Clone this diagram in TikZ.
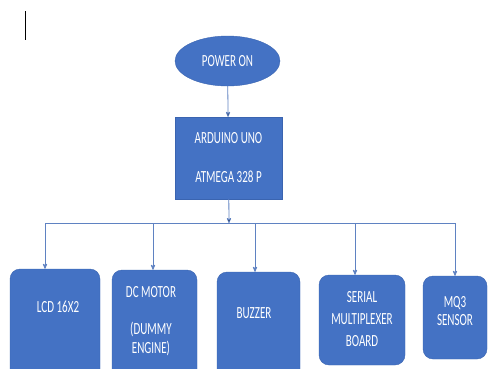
\documentclass[tikz,border=0pt]{standalone}
\usepackage{fontspec}
\setmainfont{Carlito}[FakeStretch=0.65]
\usetikzlibrary{arrows,shapes.geometric}

\definecolor{boxblue}{HTML}{4472C4}
\definecolor{boxedge}{HTML}{3A64B0}
\definecolor{linkblue}{HTML}{5F82C2}

\begin{document}
\begin{tikzpicture}[x=1pt,y=-1pt,>=stealth',
    blk/.style={draw=boxedge,fill=boxblue,text=white,inner sep=0pt,
        font=\fontsize{17}{19}\selectfont,align=center},
    start/.style={blk,ellipse,minimum width=105pt,minimum height=50pt},
    ctrl/.style={blk,rectangle,minimum width=107pt,minimum height=82pt},
    unit/.style={blk,rectangle,rounded corners=10pt},
    lbl/.style={text=white,inner sep=0pt,font=\fontsize{17}{19}\selectfont,align=center},
    link/.style={draw=linkblue,line width=0.8pt}]
    \useasboundingbox (0,0) rectangle (492,368);
    \draw[line width=0.8pt] (25,11) -- (25,40);

    \node[start] (pwr) at (227.5,61) {POWER ON};
    \node[ctrl] (uno) at (228.5,158) {ARDUINO UNO\\[20pt]ATMEGA 328 P};

    \node[unit,minimum width=90pt,minimum height=111pt] (lcd) at (55,324.5) {};
    \node[unit,minimum width=85pt,minimum height=110pt] (dc) at (154.5,325) {};
    \node[unit,minimum width=83pt,minimum height=108pt] (buz) at (258.5,326) {};
    \node[unit,minimum width=86pt,minimum height=90pt] (mux) at (362,320) {};
    \node[unit,minimum width=64pt,minimum height=83pt] (mq) at (455,317.5) {};

    \node[lbl] (lcdlbl) at (58,307) {LCD 16X2};
    \node[lbl] (dclbl) at (151,321) {DC MOTOR\\[18pt](DUMMY\\ENGINE)};
    \node[lbl] (buzlbl) at (254,313) {BUZZER};
    \node[lbl] (muxlbl) at (362,319.5) {SERIAL\\[3pt]MULTIPLEXER\\[3pt]BOARD};
    \node[lbl] (mqlbl) at (455,311) {MQ3\\[-1pt]SENSOR};

    % bus
    \coordinate (hub) at (229,223);
    \coordinate (t1) at (45,223);
    \coordinate (t2) at (153,223);
    \coordinate (t3) at (255,223);
    \coordinate (t4) at (355,223);
    \coordinate (t5) at (455,223);

    \path[link,->] (pwr) edge (uno);
    \path[link,->] (uno) edge (hub);
    \draw[link] (t1) -- (t5);
    \draw[link,->] (t1) -- (t1 |- lcd.north);
    \draw[link,->] (t2) -- (t2 |- dc.north);
    \draw[link,->] (t3) -- (t3 |- buz.north);
    \draw[link,->] (t4) -- (t4 |- mux.north);
    \draw[link,->] (t5) -- (t5 |- mq.north);
\end{tikzpicture}
\end{document}
